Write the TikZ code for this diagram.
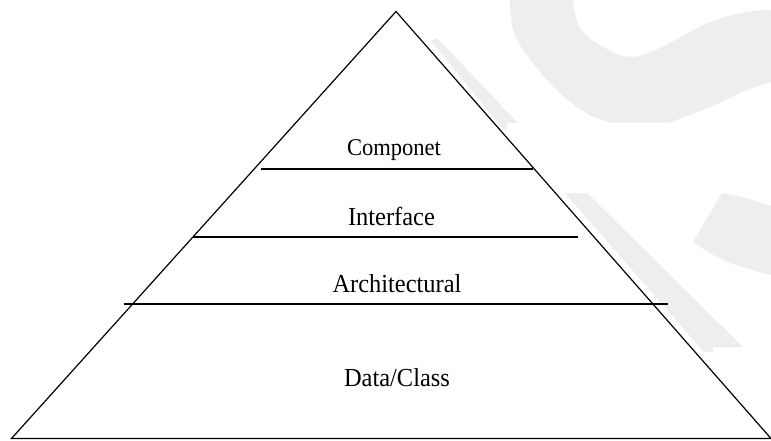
\documentclass[tikz,border=0pt]{standalone}
\usepackage{fontspec}
\setmainfont{Liberation Serif}
\definecolor{wm}{HTML}{EEEEEE}
\tikzset{
  edge/.style={line width=1.2pt, line join=miter},
  layerline/.style={line width=1.8pt},
  lbl/.style={anchor=base, inner sep=0pt, font=\fontsize{26}{30}\selectfont},
  lblsmall/.style={anchor=base, inner sep=0pt, font=\fontsize{24}{28}\selectfont},
  mark wm/.style={fill=wm, draw=none}
}
\newcommand{\sq}[1]{\scalebox{0.94}[1]{#1}}
\begin{document}
\begin{tikzpicture}[x=1pt,y=-1pt]
\useasboundingbox (0,0) rectangle (771,441);
\fill[white] (0,0) rectangle (771,441);
% watermark shapes
\fill[mark wm] (431,41) -- (437,38) -- (518,123) -- (507,123) -- (507,129) -- (503,129) -- cycle;
\fill[mark wm] (510,0) -- plot[smooth, tension=0.6] coordinates {(510,0) (514,33) (533,63) (560,93) (588,114) (612,123)}
  -- (668,123) -- plot[smooth, tension=0.6] coordinates {(668,123) (710,107) (747,90) (771,82)}
  -- (771,10) -- plot[smooth, tension=0.6] coordinates {(771,10) (747,12) (710,22) (660,48) (630,57) (603,47) (580,28) (573,0)} -- cycle;
\fill[mark wm] (565,193) -- (587,193) -- (743,347) -- (713,347) -- (713,352) -- (704,352) -- cycle;
\fill[mark wm] (722,193) -- plot[smooth, tension=0.6] coordinates {(722,193) (745,198) (771,206)}
  -- (771,275) -- plot[smooth, tension=0.6] coordinates {(771,275) (733,264) (710,253) (693,242)} -- cycle;
% pyramid
\coordinate (apex) at (396,11.5);
\coordinate (bl) at (11.5,438.5);
\coordinate (br) at (771,438.5);
\draw[edge] (apex) -- (bl) -- (br) -- cycle;
\coordinate (c1) at (260.5,169);
\coordinate (c2) at (533,169);
\coordinate (i1) at (193,237);
\coordinate (i2) at (578,237);
\coordinate (a1) at (124,304);
\coordinate (a2) at (668,304);
\draw[layerline] (c1) -- (c2);
\draw[layerline] (i1) -- (i2);
\draw[layerline] (a1) -- (a2);
\node[lblsmall] (comp) at (394,156) {\sq{Componet}};
\node[lbl] (intf) at (391.5,225) {\sq{Interface}};
\node[lbl] (arch) at (397,292) {\sq{Architectural}};
\node[lbl] (data) at (397,386) {\sq{Data/Class}};
\end{tikzpicture}
\end{document}
